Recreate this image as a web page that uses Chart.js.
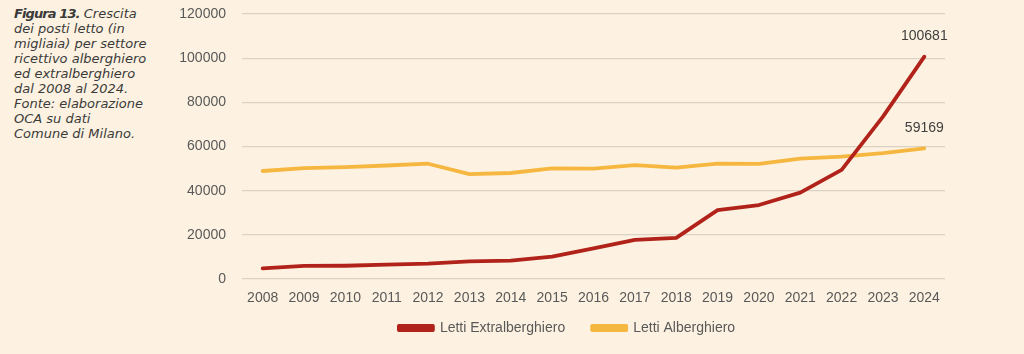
<!DOCTYPE html>
<html>
<head>
<meta charset="utf-8">
<script src="https://cdn.jsdelivr.net/npm/chart.js@4.4.1/dist/chart.umd.min.js"></script>
<style>
  html, body { margin: 0; padding: 0; background: #FDF2E1; }
  body { width: 1024px; height: 354px; position: relative; overflow: hidden; }
  #caption {
    position: absolute; left: 14px; top: 6px; width: 170px; white-space: nowrap;
    font-family: "DejaVu Sans", sans-serif; font-style: italic;
    font-size: 13px; line-height: 15px; color: #3a3a3a;
  }
  #caption b { font-weight: 700; letter-spacing: -0.9px; }
  #wrap { position: absolute; left: 0; top: 0; width: 1024px; height: 354px; }
</style>
</head>
<body>
<div id="caption"><b>Figura 13.</b> Crescita<br>dei posti letto (in<br>migliaia) per settore<br>ricettivo alberghiero<br>ed extralberghiero<br>dal 2008 al 2024.<br>Fonte: elaborazione<br>OCA su dati<br>Comune di Milano.</div>
<div id="wrap"><canvas id="c" width="1024" height="354"></canvas></div>
<script>
const years = ["2008","2009","2010","2011","2012","2013","2014","2015","2016","2017","2018","2019","2020","2021","2022","2023","2024"];
const extralberghiero = [4800, 5900, 6000, 6500, 7000, 8000, 8300, 10100, 13900, 17700, 18600, 31200, 33500, 39100, 49400, 73500, 100681];
const alberghiero = [48900, 50200, 50700, 51400, 52200, 47500, 48000, 50100, 50000, 51600, 50400, 52200, 52100, 54500, 55400, 57000, 59169];
const seriesNames = ["Letti Extralberghiero", "Letti Alberghiero"];
const yTicks = [0, 20000, 40000, 60000, 80000, 100000, 120000];

const RED = "#B1231A";
const YEL = "#F6B740";
const TXT = "#595959";
const SANS = "'Liberation Sans', Arial, sans-serif";

const lastLabels = {
  id: "lastLabels",
  afterDatasetsDraw(chart) {
    const ctx = chart.ctx;
    ctx.save();
    ctx.font = "14px " + SANS;
    ctx.fillStyle = "#404040";
    ctx.textAlign = "center";
    ctx.textBaseline = "middle";
    chart.data.datasets.forEach((ds, i) => {
      const meta = chart.getDatasetMeta(i);
      const n = ds.data.length - 1;
      const pt = meta.data[n];
      ctx.fillText(String(ds.data[n]), pt.x, pt.y - 20.5);
    });
    ctx.restore();
  }
};

const noClip = (s) => { s._computeLabelArea = () => undefined; };

new Chart(document.getElementById("c"), {
  type: "line",
  data: {
    labels: years,
    datasets: [
      { label: seriesNames[0], data: extralberghiero, borderColor: RED, backgroundColor: RED, borderWidth: 3.8, pointRadius: 0, tension: 0, borderCapStyle: "round", borderJoinStyle: "round" },
      { label: seriesNames[1], data: alberghiero, borderColor: YEL, backgroundColor: YEL, borderWidth: 3.8, pointRadius: 0, tension: 0, borderCapStyle: "round", borderJoinStyle: "round" }
    ]
  },
  options: {
    responsive: false,
    animation: false,
    devicePixelRatio: 1,
    layout: { padding: { left: 189, right: 79, top: 14, bottom: 9 } },
    plugins: {
      tooltip: { enabled: false },
      legend: {
        position: "bottom",
        labels: {
          boxWidth: 34, boxHeight: 4, padding: 27,
          color: TXT,
          font: { family: SANS, size: 14 }
        }
      }
    },
    scales: {
      x: {
        offset: true,
        grid: { display: false, drawTicks: false },
        border: { display: false },
        ticks: { color: TXT, padding: 11, maxRotation: 0, autoSkip: false,
                 font: { family: SANS, size: 14 } },
        afterFit(s) { s.height = 15; s.paddingLeft = 0; s.paddingRight = 0; noClip(s); }
      },
      y: {
        min: 0, max: 120000,
        afterBuildTicks(s) { s.ticks = yTicks.map(v => ({ value: v })); },
        grid: { color: "#DBD1C4", lineWidth: 1.2, drawTicks: false },
        border: { display: false },
        ticks: { color: TXT, padding: 16, callback: (v) => String(v),
                 font: { family: SANS, size: 14 } },
        afterFit(s) { s.width = 53; s.paddingTop = 0; s.paddingBottom = 0; noClip(s); }
      }
    }
  },
  plugins: [lastLabels]
});
</script>
</body>
</html>
